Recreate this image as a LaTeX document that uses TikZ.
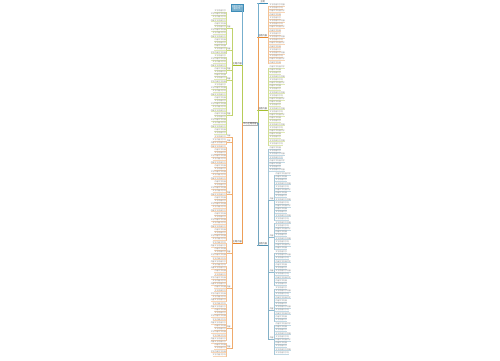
\documentclass[tikz,border=0pt]{standalone}
\usepackage{fontspec}
\newfontfamily\cjk{Noto Sans CJK SC}
\definecolor{cteal}{HTML}{3D8DB8}
\definecolor{corange}{HTML}{E8872E}
\definecolor{cgreen}{HTML}{A5BE2E}
\definecolor{cblue}{HTML}{4F8FAF}
\newcommand\lfont{\cjk\fontsize{1.9}{2.1}\selectfont}
\newcommand\rfont{\cjk\fontsize{2.2}{2.6}\selectfont}
\newcommand\leaftxt[1]{\ifcase#1 文字内容文字内\or 内容文字内容\or 文字内容文字内容\or 内容文字内容文字\or 文字内容文字\fi}
\tikzset{
  leafnode/.style={inner xsep=0.2pt, inner ysep=0.3pt, font=\lfont, text=black!50},
  subnode/.style={inner xsep=0.2pt, inner ysep=0.3pt, font=\lfont, text=black!55},
  branchnode/.style={inner xsep=0.3pt, inner ysep=0.5pt, font=\rfont, text=black!75, minimum width=10.5pt},
  conn/.style={line width=0.28pt},
  uline/.style={line width=0.25pt},
  bline/.style={line width=1pt}
}
% left leaves: #1 colour, #2 parent, #3 east x, #4 first y, #5 count
\newcommand\leavesL[5]{%
  \foreach \k in {1,...,#5}{%
    \pgfmathsetmacro\yy{#4+(\k-1)*3.2}%
    \pgfmathtruncatemacro\ltn{mod(\k*3+#5,5)}%
    \node[leafnode, anchor=south east] (#2-\k) at (#3,\yy) {\leaftxt{\ltn}};
    \draw[#1!35, uline] (#2-\k.south west) -- (#2-\k.south east);
    \draw[#1!50, conn] (#2.south west) -- ++(-0.45,0) |- (#2-\k.south east);
  }}
% right leaves
\newcommand\leavesR[5]{%
  \foreach \k in {1,...,#5}{%
    \pgfmathsetmacro\yy{#4+(\k-1)*3.2}%
    \pgfmathtruncatemacro\ltn{mod(\k*3+#5,5)}%
    \node[leafnode, anchor=south west] (#2-\k) at (#3,\yy) {\leaftxt{\ltn}};
    \draw[#1!35, uline] (#2-\k.south west) -- (#2-\k.south east);
    \draw[#1!50, conn] (#2.south east) -- ++(0.45,0) |- (#2-\k.south west);
  }}
% left sub node: #1 colour, #2 parent branch, #3 name, #4 y
\newcommand\subL[4]{%
  \node[subnode, anchor=south east] (#3) at (230.8,#4) {内容};
  \draw[#1!60, uline] (#3.south west) -- (#3.south east);
  \draw[#1!70, conn] (#2.south west) -- ++(-0.45,0) |- (#3.south east);
}
\newcommand\subR[4]{%
  \node[subnode, anchor=south west] (#3) at (269.6,#4) {内容};
  \draw[#1!60, uline] (#3.south west) -- (#3.south east);
  \draw[#1!70, conn] (#2.south east) -- ++(0.45,0) |- (#3.south west);
}
\begin{document}
\begin{tikzpicture}[x=1pt,y=-1pt, every node/.style={inner sep=0pt, outer sep=0pt}]
\useasboundingbox[fill=white] (0,0) rectangle (500,360);

% root
\node[draw=black!30, line width=0.3pt, fill=white, inner xsep=0.8pt, inner ysep=0.6pt, font=\rfont, text=black!75] (root) at (250,123.5) {中心主题内容};

% title (left branch 0)
\node[fill=cteal!70, draw=cteal, line width=0.3pt, text=white, font=\rfont, align=center, minimum width=12pt, minimum height=7pt] (title) at (237,7.5) {主题文字内\\容文字};
\draw[cteal!70, conn] (root.west) -- ++(-0.3,0) |- (title.east);

% left branch 1 (green)
\node[branchnode, anchor=south east] (L1) at (242.6,65) {主题内容};
\draw[cgreen, bline] (L1.south west) -- (L1.south east);
\draw[cgreen!80, conn] (root.west) -- ++(-0.3,0) |- (L1.south east);
\subL{cgreen}{L1}{L1a}{28}
\subL{cgreen}{L1}{L1b}{50}
\subL{cgreen}{L1}{L1c}{70}
\subL{cgreen}{L1}{L1d}{80}
\subL{cgreen}{L1}{L1e}{115}
\leavesL{cgreen}{L1a}{226.2}{12}{11}
\leavesL{cgreen}{L1b}{226.2}{47.2}{3}
\leavesL{cgreen}{L1c}{226.2}{57}{6}
\leavesL{cgreen}{L1d}{226.2}{76.2}{3}
\leavesL{cgreen}{L1e}{226.2}{86}{16}

% left branch 2 (orange)
\node[branchnode, anchor=south east] (L2) at (242.6,243) {主题内容};
\draw[corange, bline] (L2.south west) -- (L2.south east);
\draw[corange!80, conn] (root.west) -- ++(-0.3,0) |- (L2.south east);
\subL{corange}{L2}{L2a}{137}
\subL{corange}{L2}{L2b}{142}
\subL{corange}{L2}{L2c}{194}
\subL{corange}{L2}{L2d}{253}
\subL{corange}{L2}{L2e}{288}
\subL{corange}{L2}{L2f}{328}
\subL{corange}{L2}{L2g}{348}
\leavesL{corange}{L2a}{226.2}{137.5}{1}
\leavesL{corange}{L2b}{226.2}{140.7}{2}
\leavesL{corange}{L2c}{226.2}{147.5}{30}
\leavesL{corange}{L2d}{226.2}{243.5}{7}
\leavesL{corange}{L2e}{226.2}{266}{12}
\leavesL{corange}{L2f}{226.2}{304.5}{12}
\leavesL{corange}{L2g}{226.2}{343}{5}

% right branch 0 (teal)
\node[branchnode, anchor=south west] (R0) at (257.4,3.5) {主题};
\draw[cteal, bline] (R0.south west) -- (R0.south east);
\draw[cteal!70, conn] (root.east) -- ++(0.3,0) |- (R0.south west);

% right branch 1 (orange)
\node[branchnode, anchor=south west] (R1) at (257.4,37.5) {主题内容};
\draw[corange, bline] (R1.south west) -- (R1.south east);
\draw[corange!80, conn] (root.east) -- ++(0.3,0) |- (R1.south west);
\leavesR{corange}{R1}{269.4}{6}{19}

% right branch 2 (green)
\node[branchnode, anchor=south west] (R2) at (257.4,110.5) {主题内容};
\draw[cgreen, bline] (R2.south west) -- (R2.south east);
\draw[cgreen!80, conn] (root.east) -- ++(0.3,0) |- (R2.south west);
\leavesR{cgreen}{R2}{269.4}{68}{25}

% right branch 3 (blue)
\node[branchnode, anchor=south west] (R3) at (257.4,245.5) {主题内容};
\draw[cblue, bline] (R3.south west) -- (R3.south east);
\draw[cblue!80, conn] (root.east) -- ++(0.3,0) |- (R3.south west);
\leavesR{cblue}{R3}{269.4}{149}{8}
\subR{cblue}{R3}{R3a}{200}
\subR{cblue}{R3}{R3b}{237}
\subR{cblue}{R3}{R3c}{272}
\subR{cblue}{R3}{R3d}{310}
\subR{cblue}{R3}{R3e}{339}
\leavesR{cblue}{R3a}{275.4}{175}{15}
\leavesR{cblue}{R3b}{275.4}{223.5}{9}
\leavesR{cblue}{R3c}{275.4}{253}{11}
\leavesR{cblue}{R3d}{275.4}{289}{11}
\leavesR{cblue}{R3e}{275.4}{325}{10}
\end{tikzpicture}
\end{document}
